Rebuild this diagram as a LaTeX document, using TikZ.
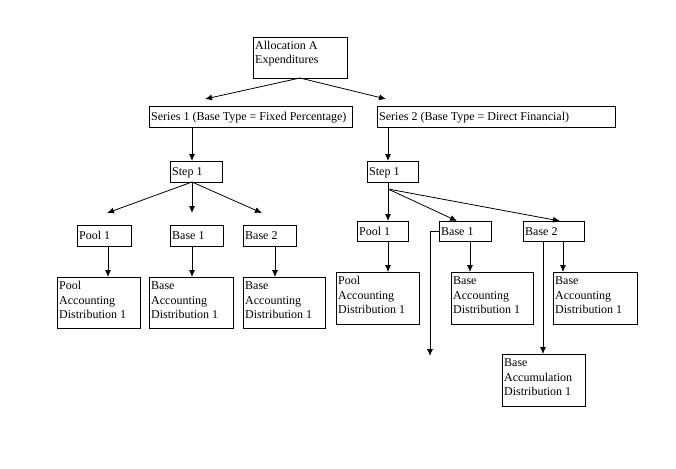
\documentclass[tikz,border=0pt]{standalone}
\usepackage{fontspec}
\setmainfont{Liberation Serif}
\usetikzlibrary{arrows.meta}
\newcommand\mkbox[7]{%
  \node[box,minimum width=#4pt,minimum height=#5pt] (#1) at (#2,#3) {};
  \node[txt] (#1-t) at ([shift={(2,#6)}]#1.north west) {\parbox[t]{250pt}{\raggedright #7}};}
\begin{document}
\begin{tikzpicture}[x=1pt,y=-1pt,
  box/.style={draw,line width=0.8pt,inner sep=0pt,outer sep=0pt,anchor=north west},
  txt/.style={anchor=base west,inner sep=0pt,font=\fontsize{12}{14.5}\selectfont},
  arr/.style={line width=0.8pt,-{Latex[length=7pt,width=6pt]}},
  ln/.style={line width=0.8pt}]
\useasboundingbox[fill=white] (0,0) rectangle (676,468);
% top
\node[box,minimum width=94pt,minimum height=41pt] (alloc) at (253,37) {};
\node[txt,font=\fontsize{12}{13.5}\selectfont] (alloc-t) at ([shift={(2,13)}]alloc.north west) {\parbox[t]{90pt}{\raggedright Allocation A\\Expenditures}};
% series
\mkbox{s1}{149}{106}{203}{21}{14}{Series 1 (Base Type = Fixed Percentage)}
\mkbox{s2}{377}{106}{238}{21}{14}{Series 2 (Base Type = Direct Financial)}
% steps
\mkbox{st1}{170}{161}{52}{21}{14}{Step 1}
\mkbox{st2}{367}{161}{51}{21}{14}{Step 1}
% left level
\mkbox{lp1}{77}{225}{54}{21}{14}{Pool 1}
\mkbox{lb1}{170}{225}{53}{21}{14}{Base 1}
\mkbox{lb2}{243}{225}{53}{21}{14}{Base 2}
\mkbox{lpa}{57}{277}{83}{51}{12.5}{Pool\\Accounting\\Distribution 1}
\mkbox{lba}{149}{277}{84}{51}{12.5}{Base\\Accounting\\Distribution 1}
\mkbox{lbb}{243}{277}{82}{51}{12.5}{Base\\Accounting\\Distribution 1}
% right level
\mkbox{rp1}{357}{221}{51}{20}{14}{Pool 1}
\mkbox{rb1}{439}{221}{52}{20}{14}{Base 1}
\mkbox{rb2}{523}{221}{61}{20}{14}{Base 2}
\mkbox{rpa}{336}{272}{83}{52}{12.5}{Pool\\Accounting\\Distribution 1}
\mkbox{rba}{451}{272}{82}{52}{12.5}{Base\\Accounting\\Distribution 1}
\mkbox{rbb}{553}{272}{84}{52}{12.5}{Base\\Accounting\\Distribution 1}
\mkbox{rbc}{502}{354}{83}{52}{12.5}{Base\\Accumulation\\Distribution 1}
% free ends
\coordinate (c1) at (205,99);
\coordinate (c2) at (386,99);
\coordinate (la) at (192,182);
\coordinate (l1) at (107,213);
\coordinate (l2) at (192,213);
\coordinate (l3) at (262,213);
\coordinate (ra) at (388,189);
\coordinate (rx) at (430,356);
% connectors
\draw[arr] (alloc.south) -- (c1);
\draw[arr] (alloc.south) -- (c2);
\draw[arr] (192,0 |- s1.south) -- (192,0 |- st1.north);
\draw[arr] (388,0 |- s2.south) -- (388,0 |- st2.north);
\draw[arr] (la) -- (l1);
\draw[arr] (la) -- (l2);
\draw[arr] (la) -- (l3);
\draw[arr] (108,0 |- lp1.south) -- (108,0 |- lpa.north);
\draw[arr] (192,0 |- lb1.south) -- (192,0 |- lba.north);
\draw[arr] (275,0 |- lb2.south) -- (275,0 |- lbb.north);
\draw[ln] (388,0 |- st2.south) -- (ra);
\draw[arr] (ra) -- (388,0 |- rp1.north);
\draw[arr] (ra) -- (457,0 |- rb1.north);
\draw[arr] (ra) -- (560,0 |- rb2.north);
\draw[arr] (388,0 |- rp1.south) -- (388,0 |- rpa.north);
\draw[arr] (rb1.west) -| (rx);
\draw[arr] (470,0 |- rb1.south) -- (470,0 |- rba.north);
\draw[arr] (543,0 |- rb2.south) -- (543,0 |- rbc.north);
\draw[arr] (563,0 |- rb2.south) -- (563,0 |- rbb.north);
\end{tikzpicture}
\end{document}
